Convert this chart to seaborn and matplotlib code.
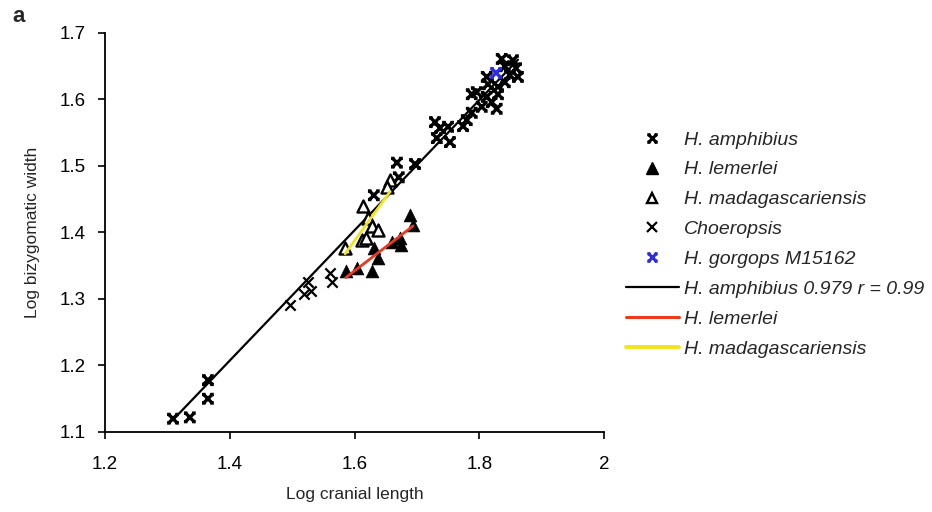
import numpy as np
import pandas as pd
import matplotlib
matplotlib.use("Agg")
import matplotlib.pyplot as plt
from matplotlib.path import Path
from matplotlib.markers import MarkerStyle
from matplotlib.lines import Line2D
import seaborn as sns

# ---------------- data ----------------
amph_x = [1.309, 1.336, 1.365, 1.365, 1.631, 1.668, 1.671, 1.697, 1.729, 1.737, 1.750,
          1.732, 1.753, 1.774, 1.780, 1.788, 1.836, 1.854, 1.841, 1.859, 1.849, 1.862,
          1.841, 1.812, 1.814, 1.830, 1.788, 1.796, 1.830, 1.812, 1.820, 1.804, 1.828]
amph_y = [1.120, 1.122, 1.178, 1.150, 1.456, 1.505, 1.483, 1.503, 1.566, 1.557, 1.559,
          1.542, 1.536, 1.560, 1.569, 1.580, 1.661, 1.659, 1.650, 1.647, 1.637, 1.634,
          1.626, 1.634, 1.623, 1.619, 1.608, 1.611, 1.608, 1.604, 1.596, 1.589, 1.586]

lem_x = [1.689, 1.694, 1.673, 1.660, 1.674, 1.631, 1.638, 1.604, 1.586, 1.628]
lem_y = [1.426, 1.411, 1.392, 1.386, 1.381, 1.377, 1.362, 1.347, 1.342, 1.342]

mad_x = [1.614, 1.622, 1.628, 1.638, 1.612, 1.585, 1.657, 1.652, 1.618]
mad_y = [1.440, 1.422, 1.410, 1.404, 1.389, 1.377, 1.479, 1.468, 1.392]

cho_x = [1.497, 1.519, 1.530, 1.525, 1.561, 1.564]
cho_y = [1.291, 1.307, 1.312, 1.326, 1.339, 1.326]

gor_x = [1.827]
gor_y = [1.640]

x_ticks = [1.2, 1.4, 1.6, 1.8, 2.0]
x_tick_labels = ["1.2", "1.4", "1.6", "1.8", "2"]
y_ticks = [1.1, 1.2, 1.3, 1.4, 1.5, 1.6, 1.7]
y_tick_labels = ["1.1", "1.2", "1.3", "1.4", "1.5", "1.6", "1.7"]

labels = ["H. amphibius", "H. lemerlei", "H. madagascariensis", "Choeropsis",
          "H. gorgops M15162", "H. amphibius 0.979 r = 0.99", "H. lemerlei",
          "H. madagascariensis"]

# ---------------- style ----------------
sns.set_style("ticks")
plt.rcParams["font.family"] = ["Liberation Sans", "DejaVu Sans"]
plt.rcParams["xtick.direction"] = "out"
plt.rcParams["ytick.direction"] = "out"

RED = "#ee3a1c"
YELLOW = "#f2e41c"
BLUE = "#2b2be8"

# custom marker: bold x with small serifs at the arm ends
M, L = Path.MOVETO, Path.LINETO
star_path = Path([(-0.8, -0.8), (0.8, 0.8), (-0.8, 0.8), (0.8, -0.8),
                  (-1.1, 0.8), (-0.45, 0.8), (0.45, 0.8), (1.1, 0.8),
                  (-1.1, -0.8), (-0.45, -0.8), (0.45, -0.8), (1.1, -0.8)],
                 [M, L, M, L, M, L, M, L, M, L, M, L])
star = MarkerStyle(star_path, fillstyle="none")

fig = plt.figure(figsize=(9.32, 5.12), dpi=100)
ax = fig.add_axes([105 / 932, 1 - 432 / 512, (604 - 105) / 932, (432 - 33) / 512])

df_a = pd.DataFrame({"x": amph_x, "y": amph_y})
df_l = pd.DataFrame({"x": lem_x, "y": lem_y})
df_m = pd.DataFrame({"x": mad_x, "y": mad_y})
df_c = pd.DataFrame({"x": cho_x, "y": cho_y})
df_g = pd.DataFrame({"x": gor_x, "y": gor_y})

# fitted lines
def fit_df(xs, ys):
    k, b = np.polyfit(xs, ys, 1)
    xr = np.array([min(xs), max(xs)])
    return pd.DataFrame({"x": xr, "y": k * xr + b})

sns.lineplot(data=fit_df(amph_x, amph_y), x="x", y="y", color="black", lw=1.6, ax=ax, zorder=2)

sns.scatterplot(data=df_a, x="x", y="y", marker=star, s=72, color="black",
                linewidth=2.4, ax=ax, zorder=3)
sns.scatterplot(data=df_m, x="x", y="y", marker="^", s=75, facecolor="white",
                edgecolor="black", linewidth=1.7, ax=ax, zorder=3)
sns.scatterplot(data=df_l, x="x", y="y", marker="^", s=85, color="black",
                edgecolor="black", linewidth=0.5, ax=ax, zorder=3)
sns.scatterplot(data=df_c, x="x", y="y", marker="x", s=55, color="black",
                linewidth=1.6, ax=ax, zorder=3)
sns.scatterplot(data=df_g, x="x", y="y", marker=star, s=72, color=BLUE,
                linewidth=2.4, ax=ax, zorder=4)

sns.lineplot(data=fit_df(lem_x, lem_y), x="x", y="y", color=RED, lw=2.0, ax=ax, zorder=5)
sns.lineplot(data=fit_df(mad_x, mad_y), x="x", y="y", color=YELLOW, lw=2.0, ax=ax, zorder=5)

ax.set_xlim(1.2, 2.0)
ax.set_ylim(1.1, 1.7)
ax.set_xticks(x_ticks)
ax.set_xticklabels(x_tick_labels)
ax.set_yticks(y_ticks)
ax.set_yticklabels(y_tick_labels)
ax.tick_params(labelsize=13.5, length=5, width=1.2, color="black", labelcolor="black")
ax.tick_params(axis="x", pad=12)
ax.tick_params(axis="y", pad=9)
for sp in ["left", "bottom"]:
    ax.spines[sp].set_linewidth(1.3)
    ax.spines[sp].set_color("black")
sns.despine(ax=ax)
ax.set_xlabel("Log cranial length", fontsize=12.5, labelpad=10)
ax.set_ylabel("Log bizygomatic width", fontsize=12.5, labelpad=14)

# legend
handles = [
    Line2D([], [], ls="none", marker=star, ms=7.5, mec="black", mew=2.2),
    Line2D([], [], ls="none", marker="^", ms=8, mfc="black", mec="black"),
    Line2D([], [], ls="none", marker="^", ms=7, mfc="white", mec="black", mew=1.7),
    Line2D([], [], ls="none", marker="x", ms=6.5, mec="black", mew=1.6),
    Line2D([], [], ls="none", marker=star, ms=7.5, mec=BLUE, mew=2.2),
    Line2D([], [], color="black", lw=1.6),
    Line2D([], [], color=RED, lw=2.2),
    Line2D([], [], color=YELLOW, lw=2.8),
]
leg = fig.legend(handles, labels, loc="upper left", bbox_to_anchor=(626 / 932, 1 - 131 / 512),
                 frameon=False, fontsize=14, handlelength=2.7, handletextpad=0.3,
                 labelspacing=0.63, borderaxespad=0, borderpad=0)
for t in leg.get_texts():
    t.set_fontstyle("italic")

fig.text(12 / 932, 1 - 17 / 512, "a", fontsize=16, fontweight="bold", va="center")

fig.savefig("out.png", dpi=100)
